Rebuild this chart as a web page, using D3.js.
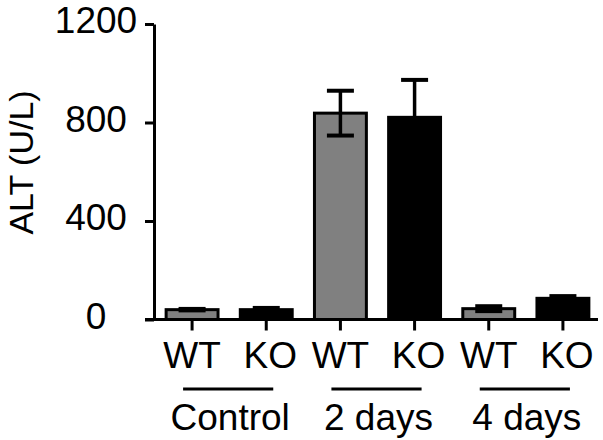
<!DOCTYPE html>
<html><head><meta charset="utf-8">
<script src="https://cdn.jsdelivr.net/npm/d3@7"></script>
<style>
html,body{margin:0;padding:0;background:#fff;}
text{font-family:"Liberation Sans",Arial,sans-serif;fill:#000;}
</style></head>
<body><svg id="c" width="603" height="440"></svg>
<script>
const groups = ["Control", "2 days", "4 days"];
const genotypes = ["WT", "KO"];
const meanWT = [40, 838, 44];
const meanKO = [40, 821, 86];
const semWT = [3, 91, 10];
const semKO = [7, 152, 9];
const yTicks = [0, 400, 800, 1200];
const yTitle = "ALT (U/L)";

const rows = [];
groups.forEach((g, i) => {
  rows.push({key: g + "|WT", group: g, geno: "WT", mean: meanWT[i], sem: semWT[i]});
  rows.push({key: g + "|KO", group: g, geno: "KO", mean: meanKO[i], sem: semKO[i]});
});

const svg = d3.select("#c");
const x = d3.scaleBand().domain(rows.map(d => d.key)).range([155, 600])
  .paddingInner(0.3).paddingOuter(0.15);
const y = d3.scaleLinear().domain([0, 1200]).range([319.5, 24]);
const fill = {WT: "#808080", KO: "#000"};

// bars
svg.append("g").selectAll("rect").data(rows).join("rect")
  .attr("x", d => x(d.key)).attr("width", x.bandwidth())
  .attr("y", d => y(d.mean)).attr("height", d => y(0) - y(d.mean))
  .attr("fill", d => fill[d.geno]).attr("stroke", "#000").attr("stroke-width", 3);

// error bars
const eb = svg.append("g").attr("stroke", "#000");
rows.forEach(d => {
  const cx = x(d.key) + x.bandwidth() / 2;
  eb.append("line").attr("x1", cx).attr("x2", cx)
    .attr("y1", y(d.mean + d.sem)).attr("y2", y(d.mean - d.sem)).attr("stroke-width", 3.5);
  [d.mean + d.sem, d.mean - d.sem].forEach(v => {
    eb.append("line").attr("x1", cx - 13.5).attr("x2", cx + 13.5)
      .attr("y1", y(v)).attr("y2", y(v)).attr("stroke-width", 4);
  });
});

// y axis
const ya = svg.append("g").attr("transform", "translate(154,0)")
  .call(d3.axisLeft(y).tickValues(yTicks).tickSize(9).tickSizeOuter(0).tickFormat(d3.format("d")));
ya.select(".domain").attr("stroke", "#000").attr("stroke-width", 3);
ya.selectAll(".tick line").attr("stroke", "#000").attr("stroke-width", 3);
ya.selectAll(".tick text").attr("font-size", 37).attr("text-anchor", "middle")
  .attr("x", -58).attr("dy", 8.5).attr("font-family", "Liberation Sans, Arial, sans-serif");

// x axis
const xa = svg.append("g").attr("transform", "translate(0,319.5)")
  .call(d3.axisBottom(x).tickSize(11).tickSizeOuter(0).tickFormat(k => k.split("|")[1]));
xa.select(".domain").attr("d", "M145,0H598").attr("stroke", "#000").attr("stroke-width", 3);
xa.selectAll(".tick line").attr("stroke", "#000").attr("stroke-width", 3);
xa.selectAll(".tick text").attr("font-size", 37).attr("y", 48.5).attr("dy", 0)
  .attr("dx", k => k.endsWith("|KO") ? 4 : 0)
  .attr("font-family", "Liberation Sans, Arial, sans-serif");

// group underlines + labels
groups.forEach(g => {
  const c1 = x(g + "|WT") + x.bandwidth() / 2;
  const c2 = x(g + "|KO") + x.bandwidth() / 2;
  svg.append("line").attr("x1", c1 - 9).attr("x2", c2 + 7).attr("y1", 389).attr("y2", 389)
    .attr("stroke", "#000").attr("stroke-width", 3);
  svg.append("text").attr("x", (c1 + c2) / 2 + 1).attr("y", 430).attr("text-anchor", "middle")
    .attr("font-size", 37).text(g);
});

// y title
svg.append("text").attr("transform", "translate(33,162.5) rotate(-90)")
  .attr("text-anchor", "middle").attr("font-size", 34).text(yTitle);
</script></body></html>
